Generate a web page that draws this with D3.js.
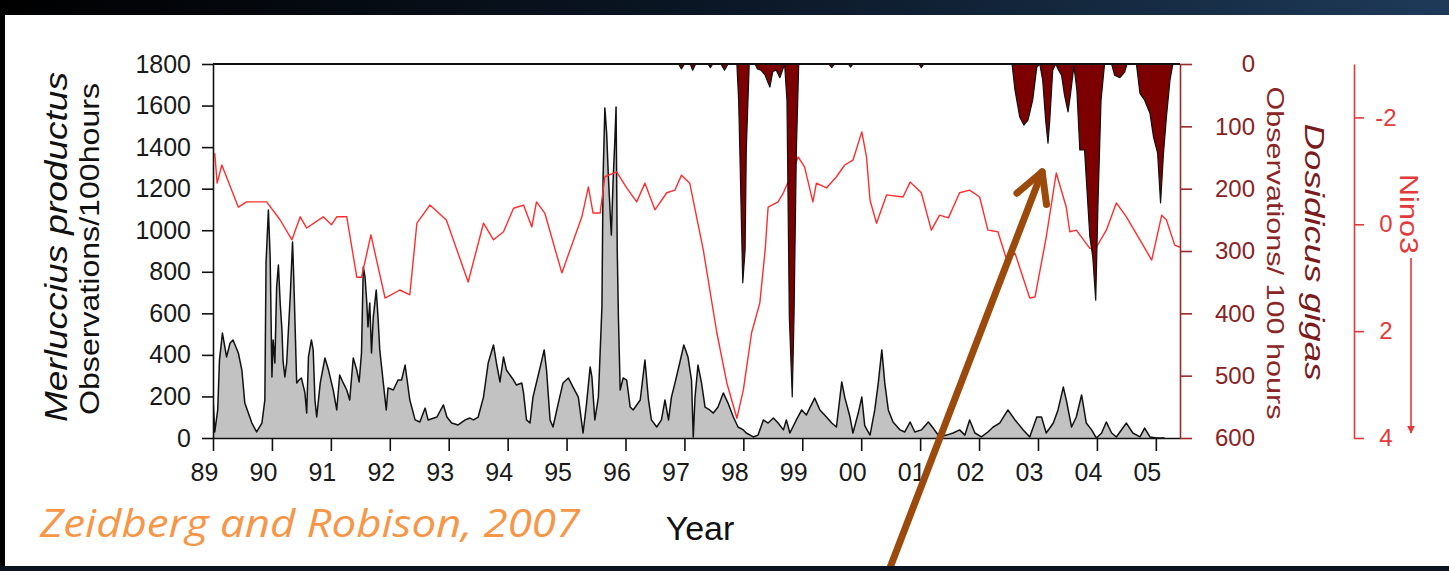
<!DOCTYPE html>
<html><head><meta charset="utf-8">
<script src="https://cdn.jsdelivr.net/npm/d3@7"></script>
<style>
html,body{margin:0;padding:0;background:#fff;overflow:hidden;}
svg{display:block;}
</style></head><body>
<svg id="chart" width="1449" height="571"></svg>
<script>
// ---------- data ----------
const yearTicks = [1989,1990,1991,1992,1993,1994,1995,1996,1997,1998,1999,2000,2001,2002,2003,2004,2005];
const yearLabels = ["89","90","91","92","93","94","95","96","97","98","99","00","01","02","03","04","05"];
const merlTicks = [0,200,400,600,800,1000,1200,1400,1600,1800];
const dosTicks = [0,100,200,300,400,500,600];
const ninoTicks = [-2,0,2,4];

// Merluccius productus, observations / 100 h (grey area)
const merlYears = [1989.00,1989.03,1989.08,1989.11,1989.16,1989.23,1989.29,1989.34,1989.43,1989.49,1989.54,1989.66,1989.74,1989.83,1989.88,1989.90,1989.94,1989.97,1990.00,1990.02,1990.05,1990.08,1990.11,1990.14,1990.17,1990.19,1990.22,1990.25,1990.31,1990.35,1990.37,1990.42,1990.46,1990.50,1990.56,1990.59,1990.62,1990.67,1990.70,1990.73,1990.76,1990.82,1990.90,1990.96,1991.04,1991.10,1991.15,1991.21,1991.27,1991.32,1991.38,1991.44,1991.48,1991.52,1991.55,1991.58,1991.61,1991.63,1991.66,1991.69,1991.72,1991.77,1991.80,1991.83,1991.89,1991.94,1991.97,1992.06,1992.14,1992.20,1992.26,1992.34,1992.43,1992.51,1992.60,1992.65,1992.80,1992.91,1992.97,1993.05,1993.16,1993.28,1993.36,1993.42,1993.50,1993.59,1993.67,1993.76,1993.81,1993.87,1993.93,1993.98,1994.10,1994.15,1994.24,1994.27,1994.32,1994.38,1994.43,1994.52,1994.58,1994.62,1994.66,1994.72,1994.77,1994.86,1994.94,1995.03,1995.11,1995.20,1995.28,1995.34,1995.40,1995.43,1995.48,1995.54,1995.60,1995.62,1995.65,1995.68,1995.71,1995.74,1995.76,1995.79,1995.82,1995.84,1995.86,1995.88,1995.91,1995.96,1996.02,1996.08,1996.13,1996.25,1996.33,1996.39,1996.44,1996.53,1996.61,1996.67,1996.73,1996.78,1996.84,1996.92,1996.99,1997.06,1997.12,1997.15,1997.18,1997.23,1997.29,1997.35,1997.43,1997.49,1997.57,1997.66,1997.74,1997.83,1997.91,1998.00,1998.05,1998.17,1998.25,1998.34,1998.42,1998.51,1998.59,1998.68,1998.73,1998.79,1998.90,1998.99,1999.07,1999.21,1999.30,1999.41,1999.50,1999.58,1999.67,1999.72,1999.81,1999.86,1999.95,2000.01,2000.06,2000.15,2000.23,2000.29,2000.35,2000.40,2000.46,2000.54,2000.66,2000.74,2000.83,2000.91,2001.02,2001.14,2001.22,2001.33,2001.45,2001.56,2001.67,2001.76,2001.84,2001.93,2002.04,2002.15,2002.24,2002.35,2002.49,2002.61,2002.75,2002.86,2002.98,2003.06,2003.14,2003.26,2003.34,2003.43,2003.48,2003.57,2003.65,2003.74,2003.82,2003.91,2003.99,2004.08,2004.16,2004.25,2004.33,2004.50,2004.61,2004.73,2004.81,2004.90,2005.01,2005.15];
const merlValues = [193,29,135,375,505,390,457,472,409,327,168,72,29,72,183,842,1097,871,294,472,361,727,833,650,520,366,294,361,679,943,775,265,279,289,217,120,390,472,424,183,101,265,385,327,231,135,303,265,231,183,385,327,270,409,823,775,650,534,650,409,582,712,582,424,265,135,241,231,279,279,351,183,87,77,144,87,101,159,101,72,63,87,96,87,101,197,361,448,361,270,390,327,279,255,265,217,87,72,197,303,375,424,327,87,53,168,265,289,245,197,24,168,342,294,87,197,630,1256,1588,1468,1256,1083,977,1242,1434,1593,905,582,231,289,279,149,135,183,375,183,87,53,87,183,87,197,265,361,448,390,279,5,197,351,265,149,135,120,149,217,168,101,53,39,24,5,14,87,72,96,72,39,87,24,87,135,111,192,135,101,72,53,270,197,101,24,120,197,60,14,135,265,424,265,135,77,39,29,77,29,39,77,48,5,14,24,39,14,87,24,5,29,53,72,135,87,39,5,101,101,24,72,135,245,183,53,101,207,72,39,0,24,77,24,5,72,24,5,48,5,0,0];

// Nino3 index (red line, inverted right axis)
const ninoYears = [1989.03,1989.07,1989.15,1989.43,1989.57,1989.91,1990.14,1990.34,1990.48,1990.59,1990.87,1991.01,1991.10,1991.27,1991.44,1991.52,1991.68,1991.92,1992.17,1992.34,1992.46,1992.68,1992.96,1993.33,1993.59,1993.76,1993.93,1994.10,1994.27,1994.41,1994.49,1994.63,1994.92,1995.26,1995.37,1995.45,1995.57,1995.65,1995.85,1996.02,1996.19,1996.33,1996.50,1996.70,1996.84,1996.95,1997.09,1997.32,1997.55,1997.72,1997.89,1998.00,1998.14,1998.28,1998.37,1998.42,1998.59,1998.68,1998.79,1998.93,1999.04,1999.18,1999.24,1999.41,1999.58,1999.72,1999.86,2000.01,2000.09,2000.15,2000.26,2000.43,2000.71,2000.83,2001.02,2001.19,2001.33,2001.48,2001.67,2001.84,2002.01,2002.15,2002.32,2002.47,2002.61,2002.86,2002.95,2003.14,2003.31,2003.48,2003.54,2003.65,2003.88,2003.99,2004.16,2004.33,2004.50,2004.73,2004.93,2005.10,2005.18,2005.32,2005.41];
const ninoValues = [-1.33,-0.77,-1.11,-0.32,-0.42,-0.42,-0.08,0.29,-0.14,0.07,-0.14,0.01,-0.14,-0.14,0.99,0.99,0.20,1.38,1.23,1.32,-0.02,-0.36,-0.08,1.08,-0.02,0.29,0.14,-0.30,-0.36,0.05,-0.42,-0.21,0.91,-0.14,-0.70,-0.21,-0.21,-0.89,-0.98,-0.68,-0.42,-0.77,-0.27,-0.59,-0.64,-0.92,-0.77,0.48,2.03,2.97,3.63,3.10,2.03,1.47,0.48,-0.32,-0.42,-0.59,-0.87,-1.26,-1.07,-0.42,-0.77,-0.68,-0.89,-1.11,-1.20,-1.73,-1.26,-0.45,-0.02,-0.55,-0.51,-0.79,-0.59,0.11,-0.17,-0.12,-0.59,-0.64,-0.51,0.11,0.14,0.67,0.54,1.38,1.36,0.24,-0.96,-0.32,0.14,0.11,0.45,0.43,0.11,-0.40,-0.14,0.29,0.67,-0.17,-0.08,0.39,0.43];

// Dosidicus gigas, observations / 100 h (dark red, hanging from top)
const dosYears = [1996.90,1996.95,1997.00,1997.10,1997.14,1997.19,1997.40,1997.44,1997.48,1997.62,1997.68,1997.74,1997.89,1997.92,1997.94,1997.99,1998.03,1998.05,1998.10,1998.20,1998.24,1998.30,1998.37,1998.45,1998.50,1998.56,1998.62,1998.70,1998.74,1998.78,1998.83,1998.86,1998.90,1998.94,1999.45,1999.50,1999.55,1999.78,1999.82,1999.86,2000.98,2001.02,2001.06,2002.56,2002.61,2002.69,2002.76,2002.83,2002.91,2002.98,2003.03,2003.08,2003.13,2003.17,2003.20,2003.25,2003.30,2003.35,2003.40,2003.45,2003.51,2003.55,2003.61,2003.66,2003.71,2003.79,2003.88,2003.93,2003.98,2004.02,2004.07,2004.13,2004.25,2004.30,2004.39,2004.47,2004.51,2004.67,2004.73,2004.81,2004.90,2004.96,2005.03,2005.08,2005.13,2005.18,2005.24,2005.29];
const dosValues = [0,8,0,0,10,0,0,6,0,0,10,0,0,58,138,351,298,138,0,0,8,10,18,37,12,10,22,0,58,406,534,406,138,0,0,6,0,0,5,0,0,6,0,0,42,85,98,90,58,5,0,26,90,127,90,10,0,10,18,50,77,50,3,42,138,138,277,310,379,218,58,0,0,18,22,13,0,0,47,58,79,117,143,223,143,85,26,0];

// annotation arrow (year, Dosidicus units)
const arrowFrom = [2000.40, 830];
const arrowTo = [2003.07, 173];

// ---------- drawing ----------
const svg = d3.select("#chart");
const W = 1449, H = 571;
const SANS = "'Liberation Sans',Arial,sans-serif";

const x = d3.scaleLinear().domain([1989, 2005.41]).range([213, 1180]);
const merlY = d3.scaleLinear().domain([0, 1800]).range([438, 64]);
const dosY = d3.scaleLinear().domain([0, 600]).range([64, 438]);
const ninoY = d3.scaleLinear().domain([-3, 4]).range([64, 438]);

const defs = svg.append("defs");
const grad = defs.append("linearGradient").attr("id","topband").attr("x1","0").attr("x2","1").attr("y1","0").attr("y2","0");
grad.append("stop").attr("offset","0").attr("stop-color","#000000");
grad.append("stop").attr("offset","0.5").attr("stop-color","#0b1726");
grad.append("stop").attr("offset","1").attr("stop-color","#1e3a58");
defs.append("clipPath").attr("id","plotclip").append("rect")
  .attr("x", x.range()[0]).attr("y", 64).attr("width", x.range()[1]-x.range()[0]).attr("height", 374);

svg.append("rect").attr("width",W).attr("height",H).attr("fill","#ffffff");

const plot = svg.append("g").attr("clip-path","url(#plotclip)");

// Merluccius area
const merlData = merlYears.map((d,i)=>[d, merlValues[i]]);
plot.append("path").datum(merlData)
  .attr("d", d3.area().x(d=>x(d[0])).y0(merlY(0)).y1(d=>merlY(d[1])))
  .attr("fill","#c2c2c2");
plot.append("path").datum(merlData)
  .attr("d", d3.line().x(d=>x(d[0])).y(d=>merlY(d[1])))
  .attr("fill","none").attr("stroke","#111").attr("stroke-width",1.5).attr("stroke-linejoin","round");

// Nino3 line
const ninoData = ninoYears.map((d,i)=>[d, ninoValues[i]]);
plot.append("path").datum(ninoData)
  .attr("d", d3.line().x(d=>x(d[0])).y(d=>ninoY(d[1])))
  .attr("fill","none").attr("stroke","#ff2d2d").attr("stroke-width",1.4).attr("stroke-linejoin","round");

// Dosidicus area
const dosData = dosYears.map((d,i)=>[d, dosValues[i]]);
plot.append("path").datum(dosData)
  .attr("d", d3.area().x(d=>x(d[0])).y0(dosY(0)).y1(d=>dosY(d[1])))
  .attr("fill","#7c0000");
plot.append("path").datum(dosData)
  .attr("d", d3.line().x(d=>x(d[0])).y(d=>dosY(d[1])))
  .attr("fill","none").attr("stroke","#111").attr("stroke-width",1.2).attr("stroke-linejoin","round");

// top frame line
svg.append("line").attr("x1",x.range()[0]).attr("x2",x.range()[1]).attr("y1",64).attr("y2",64)
  .attr("stroke","#111").attr("stroke-width",2.2);

// axes
function styleAxis(g, color, textColor, size){
  g.selectAll("path.domain").attr("stroke",color).attr("stroke-width",1.6);
  g.selectAll(".tick line").attr("stroke",color).attr("stroke-width",1.6);
  g.selectAll(".tick text").attr("fill",textColor).style("font-size",size+"px")
    .style("font-family",SANS);
}
const gL = svg.append("g").attr("transform",`translate(${x.range()[0]},0)`)
  .call(d3.axisLeft(merlY).tickValues(merlTicks).tickSize(11).tickPadding(11).tickSizeOuter(0).tickFormat(d=>String(d)));
styleAxis(gL,"#111","#1a1a1a",25);

const gB = svg.append("g").attr("transform",`translate(0,${merlY(0)})`)
  .call(d3.axisBottom(x).tickValues(yearTicks).tickSize(13).tickPadding(12).tickSizeOuter(0).tickFormat((d,i)=>yearLabels[i]));
styleAxis(gB,"#111","#1a1a1a",25);
gB.selectAll(".tick text").attr("dx",-9);

const gR = svg.append("g").attr("transform",`translate(${x.range()[1]},0)`)
  .call(d3.axisRight(dosY).tickValues(dosTicks).tickSize(12).tickSizeOuter(0).tickFormat(d=>String(d)));
styleAxis(gR,"#9a2a2a","#8a2222",24);
gR.selectAll(".tick text").attr("x",75).attr("text-anchor","end");

const gN = svg.append("g").attr("transform","translate(1354,0)")
  .call(d3.axisRight(ninoY).tickValues(ninoTicks).tickSize(10).tickSizeOuter(0).tickFormat(d=>String(d)));
styleAxis(gN,"#e23a3a","#e23a3a",24);
gN.selectAll(".tick text").attr("x",32).attr("text-anchor","middle");

// titles
function rotText(tx, ty, angle, str, opts){
  return svg.append("text").attr("transform",`translate(${tx},${ty}) rotate(${angle})`)
    .attr("text-anchor","middle").style("font-size",opts.size+"px").style("font-family",SANS)
    .attr("fill",opts.fill)
    .style("font-style",opts.italic?"italic":"normal")
    .attr("textLength",opts.len).attr("lengthAdjust","spacingAndGlyphs").text(str);
}
rotText(67, 247, -90, "Merluccius productus", {size:31, fill:"#111", italic:true, len:350});
rotText(99, 249, -90, "Observations/100hours", {size:28, fill:"#111", italic:false, len:332});
rotText(1267, 253, 90, "Observations/ 100 hours", {size:24, fill:"#8b2626", italic:false, len:333});
rotText(1305, 252, 90, "Dosidicus gigas", {size:28, fill:"#7a1a1a", italic:true, len:257});
rotText(1400, 214, 90, "Nino3", {size:25, fill:"#e23a3a", italic:false, len:80});

// Nino3 legend line with arrow
defs.append("marker").attr("id","ninoArrow").attr("viewBox","0 0 10 10").attr("refX",9).attr("refY",5)
  .attr("markerWidth",5).attr("markerHeight",5).attr("orient","auto")
  .append("path").attr("d","M0,0 L10,5 L0,10 z").attr("fill","#e23a3a");
svg.append("line").attr("x1",1411).attr("x2",1411).attr("y1",258).attr("y2",433)
  .attr("stroke","#e23a3a").attr("stroke-width",1.6).attr("marker-end","url(#ninoArrow)");

// x title
svg.append("text").attr("x",700).attr("y",540).attr("text-anchor","middle")
  .style("font-size","34px").style("font-family",SANS).attr("fill","#111").text("Year");

// citation
svg.append("text").attr("x",40).attr("y",537).style("font-family","'Open Sans',sans-serif")
  .style("font-style","italic").style("font-size","38px").attr("fill","#f79646")
  .attr("textLength",540).attr("lengthAdjust","spacingAndGlyphs").text("Zeidberg and Robison, 2007");

// annotation arrow
const ax0 = x(arrowFrom[0]), ay0 = dosY(arrowFrom[1]);
const ax1 = x(arrowTo[0]), ay1 = dosY(arrowTo[1]);
const ang = Math.atan2(ay0-ay1, ax0-ax1);
const wl = 33, wa = 0.5;
const arrowCol = "#9c4a0c";
svg.append("line").attr("x1",ax0).attr("y1",ay0).attr("x2",ax1).attr("y2",ay1)
  .attr("stroke",arrowCol).attr("stroke-width",7).attr("stroke-linecap","round");
svg.append("path")
  .attr("d",`M${ax1+wl*Math.cos(ang+wa)},${ay1+wl*Math.sin(ang+wa)} L${ax1},${ay1} L${ax1+wl*Math.cos(ang-wa)},${ay1+wl*Math.sin(ang-wa)}`)
  .attr("fill","none").attr("stroke",arrowCol).attr("stroke-width",7).attr("stroke-linecap","round").attr("stroke-linejoin","round");

// slide border
svg.append("rect").attr("x",0).attr("y",0).attr("width",W).attr("height",15).attr("fill","url(#topband)");
svg.append("rect").attr("x",0).attr("y",0).attr("width",5).attr("height",H).attr("fill","#000");
svg.append("rect").attr("x",0).attr("y",566).attr("width",W).attr("height",5).attr("fill","#0a1420");
</script>
</body></html>
